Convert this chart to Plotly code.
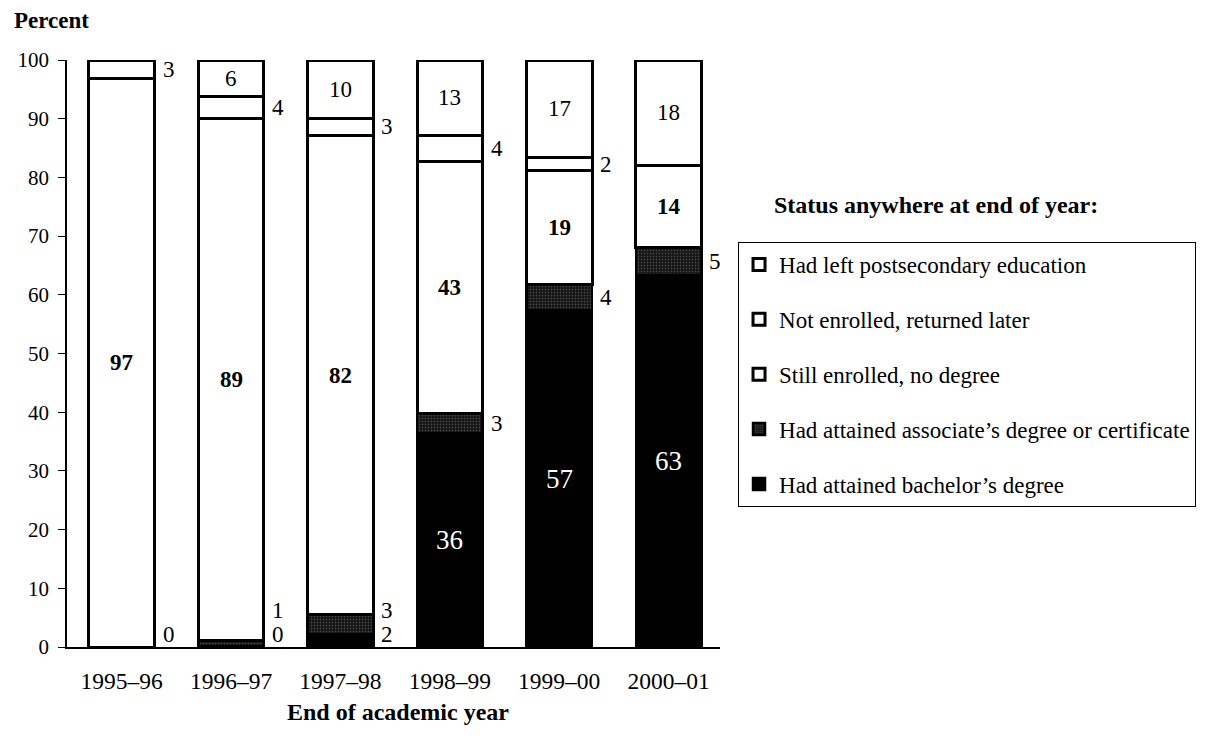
import plotly.graph_objects as go

years = ["1995–96", "1996–97", "1997–98", "1998–99", "1999–00", "2000–01"]
# Percent of students (estimated segment heights; labels show rounded values)
bachelor = [0.0, 0.2, 2.2, 36.4, 57.3, 63.3]
associate = [0.0, 0.9, 3.3, 3.4, 4.4, 4.8]
still_enrolled = [96.8, 89.0, 81.6, 42.9, 19.4, 13.9]
returned_later = [0.0, 3.6, 3.0, 4.4, 2.3, 0.0]
had_left = [3.2, 6.3, 9.9, 12.9, 16.6, 18.0]

series = [
    ("Had attained bachelor’s degree", bachelor, "black"),
    ("Had attained associate’s degree or certificate", associate, "assoc"),
    ("Still enrolled, no degree", still_enrolled, "white"),
    ("Not enrolled, returned later", returned_later, "white"),
    ("Had left postsecondary education", had_left, "white"),
]

FONT = "Liberation Serif, Times New Roman, serif"
fig = go.Figure()
for k, (name, vals, style) in enumerate(series):
    if style == "black":
        marker = dict(color="black", line=dict(color="black", width=2.5))
    elif style == "assoc":
        marker = dict(color="#111111", line=dict(color="black", width=2.5),
                      pattern=dict(shape=".", fgcolor="#7a7a7a", bgcolor="#111111",
                                   size=3, solidity=0.3))
    else:
        marker = dict(color="white", line=dict(color="black", width=3))
    fig.add_trace(go.Bar(x=list(range(len(years))), y=vals, name=name, marker=marker,
                         width=0.6, legendgroup=name, legendrank=len(series) - k,
                         hoverinfo="skip"))

annotations = []
half = 0.3
for i in range(len(years)):
    base = 0
    bach_label_y = None
    for k, (name, vals, style) in enumerate(series):
        v = vals[i]
        lab = int(round(v))
        center = base + v / 2
        base += v
        if lab >= 6:
            if style == "black":
                col, bold, size = "white", False, 27
            elif k == 2:
                col, bold, size = "black", True, 23
            else:
                col, bold, size = "black", False, 23
            txt = f"<b>{lab}</b>" if bold else str(lab)
            annotations.append(dict(x=i, y=center, xref="x", yref="y", text=txt,
                                    showarrow=False, font=dict(color=col, size=size, family=FONT)))
        else:
            if lab == 0 and k != 0:
                continue
            y = center
            if k == 0:
                y = max(center, 2.2)
                bach_label_y = y
            elif k == 1 and bach_label_y is not None:
                y = max(center, bach_label_y + 4.0)
            annotations.append(dict(x=i + half, y=y, xref="x", yref="y", text=str(lab),
                                    xanchor="left", xshift=6, showarrow=False,
                                    font=dict(color="black", size=23, family=FONT)))

annotations += [
    dict(x=-0.084, y=1.068, xref="paper", yref="paper", text="<b>Percent</b>",
         xanchor="left", yanchor="middle", showarrow=False,
         font=dict(size=23, family=FONT, color="black")),
    dict(x=0.507, y=-0.1107, xref="paper", yref="paper", text="<b>End of academic year</b>",
         yanchor="middle", showarrow=False, font=dict(size=24, family=FONT, color="black")),
    dict(x=1.0796, y=0.753, xref="paper", yref="paper", text="<b>Status anywhere at end of year:</b>",
         xanchor="left", yanchor="middle", showarrow=False,
         font=dict(size=24, family=FONT, color="black")),
]

fig.update_layout(
    barmode="stack",
    width=1210, height=739,
    margin=dict(l=59, r=498, t=52, b=100, autoexpand=False),
    paper_bgcolor="white", plot_bgcolor="white",
    font=dict(family=FONT, size=23, color="black"),
    showlegend=True,
    legend=dict(x=1.0276, y=0.69, xanchor="left", yanchor="top", traceorder="grouped",
                bordercolor="black", borderwidth=1, tracegroupgap=22,
                font=dict(size=23, family=FONT, color="black"), itemwidth=30,
                entrywidth=470, entrywidthmode="pixels",
                bgcolor="white"),
    annotations=annotations,
)
fig.update_xaxes(range=[-0.5, 5.47], tickvals=list(range(len(years))), ticktext=years,
                 showline=True, linecolor="black", linewidth=2, ticks="",
                 ticklabelstandoff=12, tickfont=dict(size=23.5, family=FONT),
                 showgrid=False, zeroline=False, fixedrange=True)
fig.update_yaxes(range=[0, 100], tick0=0, dtick=10, showline=True, linecolor="black",
                 linewidth=1.5, ticks="outside", ticklen=7, tickcolor="black",
                 ticklabelstandoff=5, tickfont=dict(size=21, family=FONT),
                 showgrid=False, zeroline=False, fixedrange=True)

fig.write_html("out.html")
